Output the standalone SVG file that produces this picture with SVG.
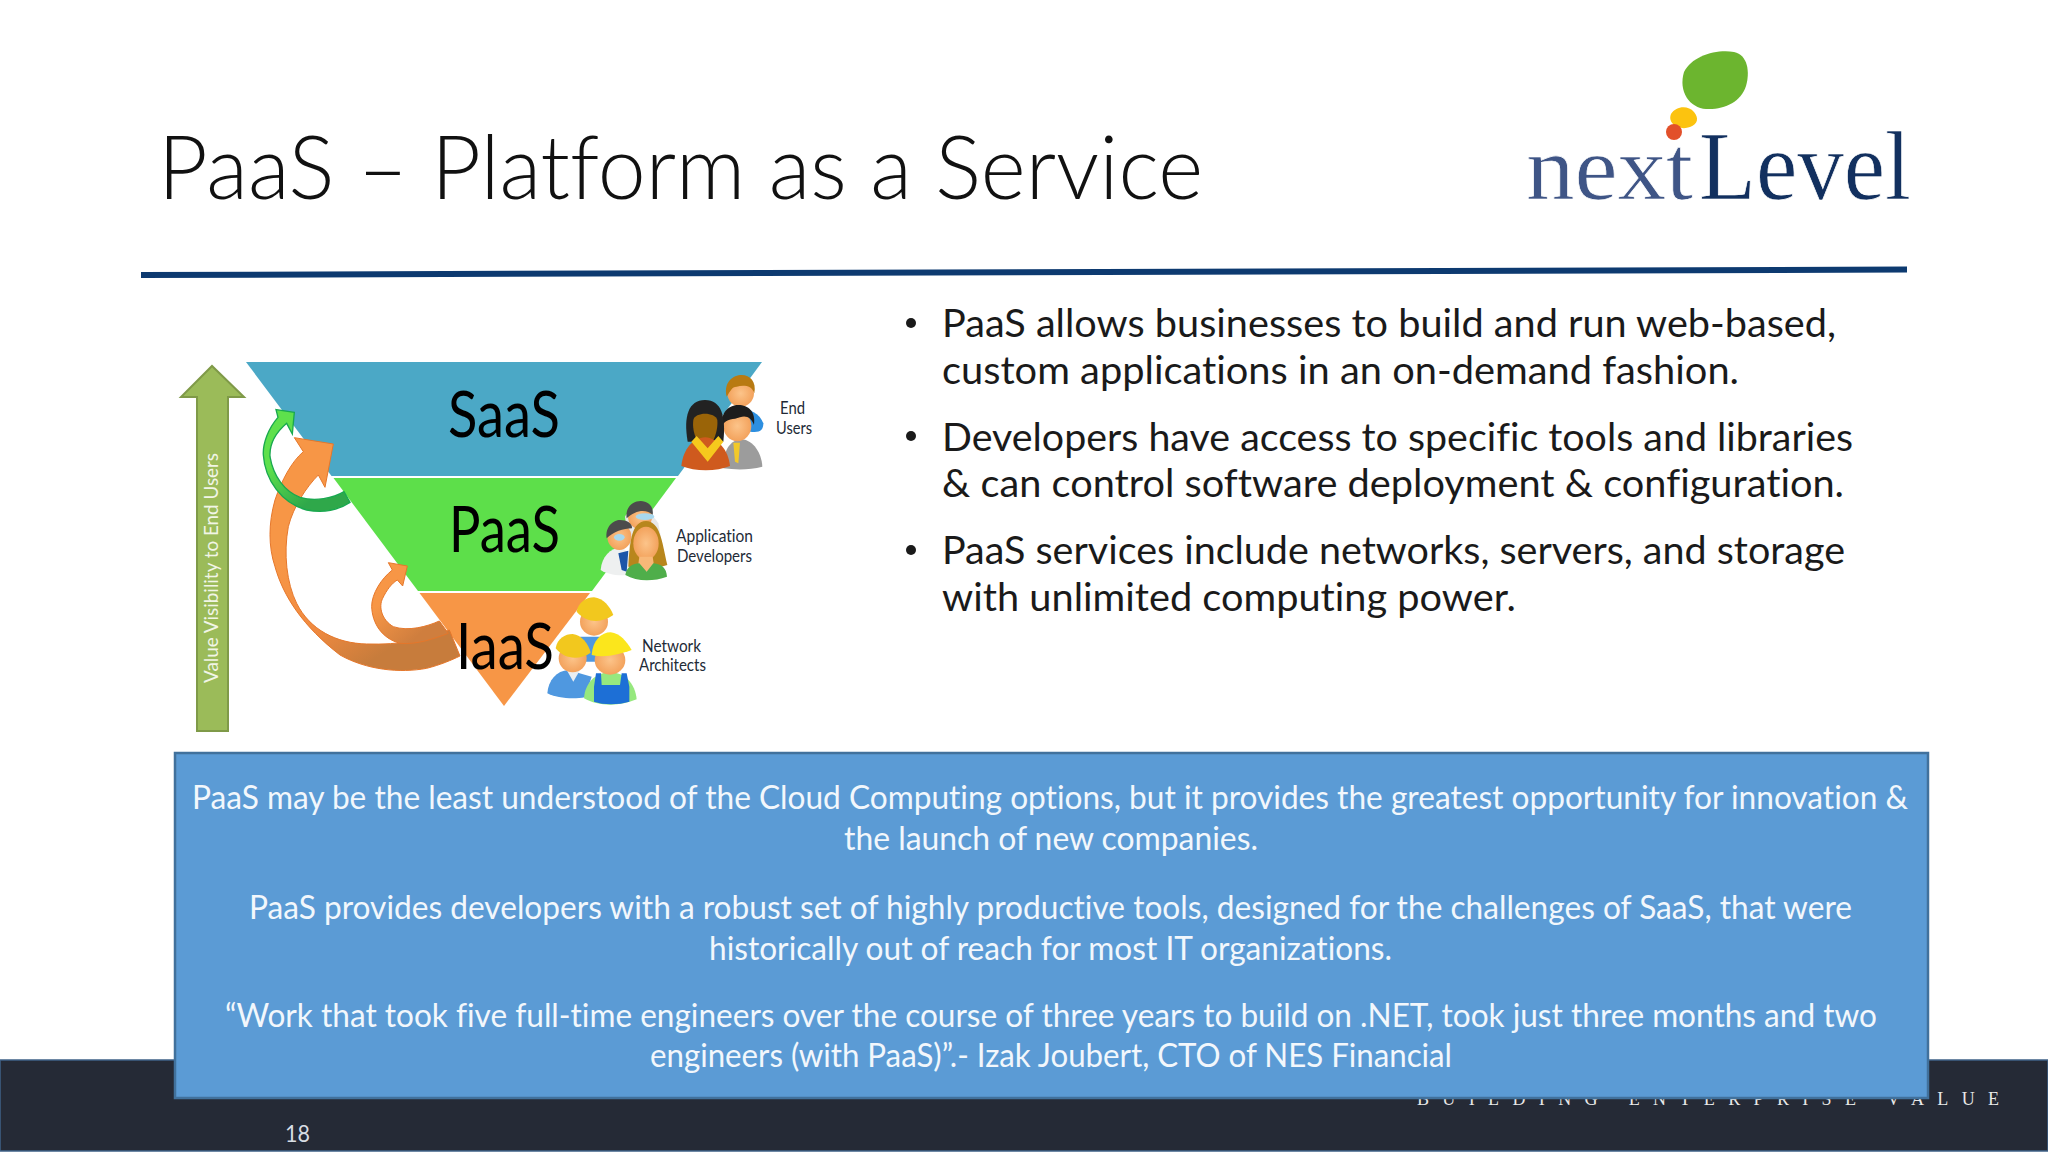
<svg xmlns="http://www.w3.org/2000/svg" width="2048" height="1152" viewBox="0 0 2048 1152">
<style>
text{font-family:"Lato","Liberation Sans",sans-serif;font-variant-ligatures:none}
.b{font-size:39px;fill:#1a1a1a}
.w{font-size:32.500px;fill:#f2f7fc}
.l{font-size:63px;fill:#000}
.s{font-size:17px;fill:#222a36}
.n{font-family:"Liberation Serif",serif;stroke:#fff;stroke-width:.7px}
</style>
<defs>
<linearGradient id="og" gradientUnits="userSpaceOnUse" x1="420" y1="640" x2="640" y2="960"><stop offset="0" stop-color="#f79646"/><stop offset="0.55" stop-color="#f08a40"/><stop offset="1" stop-color="#c77c3c"/></linearGradient>
<linearGradient id="og2" gradientUnits="userSpaceOnUse" x1="660" y1="790" x2="760" y2="900"><stop offset="0" stop-color="#f79646"/><stop offset="1" stop-color="#cf7e3e"/></linearGradient>
<linearGradient id="gg" gradientUnits="userSpaceOnUse" x1="330" y1="380" x2="430" y2="500"><stop offset="0" stop-color="#5ee04c"/><stop offset="1" stop-color="#2fa84a"/></linearGradient>
<radialGradient id="sk"><stop offset="0" stop-color="#fcc48a"/><stop offset="1" stop-color="#f3a25c"/></radialGradient>
</defs>
<rect width="2048" height="1152" fill="#fff"/>
<g id="title"><text x="158" y="199" font-size="88" style="font-weight:300" fill="#111" textLength="1045" lengthAdjust="spacingAndGlyphs">PaaS – Platform as a Service</text></g>
<g id="logo">
<path d="M1684 72C1692 56 1716 49 1734 52C1748 55 1750 72 1746 86C1741 102 1724 110 1706 109C1690 108 1678 92 1684 72Z" fill="#6cb52f"/>
<path d="M1671 114C1676 106 1688 105 1694 112C1699 118 1698 124 1690 127C1680 131 1667 124 1671 114Z" fill="#fcc30f"/>
<circle cx="1674" cy="132" r="8" fill="#e2502a"/>
<text class="n" x="1526" y="199" font-size="92" fill="#3f5586" textLength="167" lengthAdjust="spacingAndGlyphs">next</text>
<text class="n" x="1699" y="199" font-size="98" fill="#12305f" textLength="212" lengthAdjust="spacingAndGlyphs">Level</text>
</g>
<path id="rule" d="M141 272L1907 266.500V272.500L141 278Z" fill="#0d3a70"/>
<g id="arrow-value">
<path d="M197 731V397H181L212 366L244 397H228V731Z" fill="#9bbb59" stroke="#7f9a48" stroke-width="2"/>
<text transform="translate(218 683) rotate(-90)" font-size="20" fill="#f1f5e6" textLength="230" lengthAdjust="spacingAndGlyphs">Value Visibility to End Users</text>
</g>
<g id="funnel">
<path id="saas" d="M246 362H762L678 476H331.500Z" fill="#4ba8c6"/>
<path id="paas" d="M333.500 478H676L592 591H418Z" fill="#5ddf4a"/>
<path id="iaas" d="M419.500 593H590L504 706Z" fill="#f79646"/>
<text class="l" x="448" y="437" textLength="112" lengthAdjust="spacingAndGlyphs">SaaS</text>
<text class="l" x="449" y="552" textLength="111" lengthAdjust="spacingAndGlyphs">PaaS</text>
<text class="l" x="456" y="669" textLength="98" lengthAdjust="spacingAndGlyphs">IaaS</text>
</g>
<g id="connectors" transform="translate(160 340) scale(.33333)">
<path id="c-big" d="M520 312L403 293L430 335C395 365 365 420 345 480C325 550 325 620 345 680C370 770 430 860 540 945C620 990 720 1000 800 985C840 975 875 960 900 948L868 870C800 900 720 915 620 912C530 910 450 870 410 790C380 730 370 640 385 560C400 500 440 440 475 405L495 442Z" fill="url(#og)" stroke="#e5762a" stroke-width="3"/>
<path id="c-small" d="M742 678L685 668L697 690C665 715 635 760 635 800C637 850 665 895 720 910C770 915 825 895 865 880L838 843C800 860 745 875 700 860C665 840 655 800 668 775C680 750 695 730 712 720L728 738Z" fill="url(#og2)" stroke="#e5762a" stroke-width="3"/>
<path id="c-green" d="M403 217L348 209L354 232C325 265 308 310 310 345C315 420 365 490 440 510C490 520 535 510 570 487L552 455C520 475 465 485 420 472C375 455 340 410 330 350C328 315 345 280 380 250L397 282Z" fill="url(#gg)" stroke="#19a84f" stroke-width="4"/>
</g>
<g id="people" transform="translate(520 340) scale(.33333)">
<g id="end-users">
<path d="M625 215C650 195 715 205 730 250C730 270 720 280 690 275L620 230Z" fill="#2d8fe0"/>
<ellipse cx="662" cy="160" rx="40" ry="40" fill="url(#sk)"/>
<path d="M620 170C610 125 640 105 665 105C690 105 710 125 703 160C695 135 670 135 650 140C635 140 630 155 620 170Z" fill="#b87a12"/>
<path d="M610 385C610 330 630 300 665 298C700 300 725 340 727 380C690 390 650 390 610 385Z" fill="#9c9c9c"/>
<path d="M640 308H660L655 370L645 365Z" fill="#f2c92a"/>
<ellipse cx="652" cy="258" rx="42" ry="46" fill="url(#sk)"/>
<path d="M608 255C600 215 630 195 655 195C685 195 708 215 702 255C695 235 680 225 660 232C640 240 620 235 608 255Z" fill="#1d1d1d"/>
<path d="M503 305C490 230 505 180 555 180C605 180 618 230 610 305Z" fill="#222"/>
<path d="M520 240C525 215 585 215 592 240C595 280 575 320 556 322C535 320 515 280 520 240Z" fill="#9a6408"/>
<path d="M484 378C490 325 520 295 555 292C595 295 625 330 630 378C590 395 525 395 484 378Z" fill="#cf5a1e"/>
<path d="M514 305L563 365L610 305L595 288L563 325L530 288Z" fill="#f6c91d"/>
</g>
<g id="developers">
<path d="M315 530C330 500 385 500 415 550L430 630L330 640Z" fill="#e8e8e8"/>
<ellipse cx="360" cy="530" rx="36" ry="38" fill="url(#sk)"/>
<path d="M320 535C315 500 340 483 362 483C385 483 402 500 398 525C380 505 345 510 320 535Z" fill="#4c4c4c"/>
<path d="M242 690C245 650 270 625 305 622L340 650L320 705C290 708 260 702 242 690Z" fill="#eef0f0"/>
<path d="M295 640L325 632L320 695L305 690Z" fill="#1c55a8"/>
<ellipse cx="298" cy="590" rx="36" ry="40" fill="url(#sk)"/>
<path d="M260 595C255 560 280 540 300 540C320 540 338 550 336 565C310 565 280 575 260 595Z" fill="#4c4c4c"/>
<ellipse cx="298" cy="592" rx="16" ry="10" fill="#a8d8ee"/>
<ellipse cx="375" cy="530" rx="28" ry="10" fill="#a8d8ee"/>
<path d="M325 680C330 600 335 545 378 543C420 545 425 600 442 675L390 690Z" fill="#b8861c"/>
<ellipse cx="378" cy="610" rx="38" ry="50" fill="url(#sk)"/>
<path d="M358 650H398L405 695H352Z" fill="#f8b878"/>
<path d="M316 705C320 680 340 670 358 670L380 695L400 670C425 672 440 685 441 710C400 725 350 725 316 705Z" fill="#4fae4a"/>
</g>
<g id="architects">
<path d="M180 890H250L225 965H195Z" fill="#4f98e0"/>
<ellipse cx="222" cy="845" rx="42" ry="42" fill="url(#sk)"/>
<path d="M170 815C175 785 200 772 222 772C250 775 270 800 280 825C245 850 200 850 170 815Z" fill="#f2c81e"/>
<path d="M82 1060C85 1020 110 992 145 990L215 1010L195 1072C160 1078 110 1075 82 1060Z" fill="#4f98e0"/>
<path d="M140 990H180L160 1025Z" fill="#e9eef2"/>
<ellipse cx="158" cy="955" rx="42" ry="42" fill="url(#sk)"/>
<path d="M107 925C112 895 135 882 158 882C185 885 205 910 212 938C180 960 135 960 107 925Z" fill="#f2c81e"/>
<path d="M192 1075C195 1030 225 998 270 997C315 998 345 1030 350 1078C300 1100 235 1100 192 1075Z" fill="#96e87e"/>
<path d="M222 1085V1040L228 1000H243L245 1035H300L305 1000H320L328 1040V1085C295 1095 250 1095 222 1085Z" fill="#1d6fd6"/>
<ellipse cx="270" cy="960" rx="46" ry="44" fill="url(#sk)"/>
<path d="M215 945C218 900 245 877 272 877C300 880 320 905 335 930C300 942 255 955 215 945Z" fill="#fbe61c"/>
</g>
</g>
<g id="labels">
<text class="s" x="780" y="414" textLength="25" lengthAdjust="spacingAndGlyphs">End</text>
<text class="s" x="776" y="434" textLength="36" lengthAdjust="spacingAndGlyphs">Users</text>
<text class="s" x="676" y="542" textLength="77" lengthAdjust="spacingAndGlyphs">Application</text>
<text class="s" x="677" y="562" textLength="75" lengthAdjust="spacingAndGlyphs">Developers</text>
<text class="s" x="642" y="652" textLength="59" lengthAdjust="spacingAndGlyphs">Network</text>
<text class="s" x="639" y="671" textLength="67" lengthAdjust="spacingAndGlyphs">Architects</text>
</g>
<g id="bullets">
<circle cx="911" cy="323" r="5" fill="#1a1a1a"/><circle cx="911" cy="436" r="5" fill="#1a1a1a"/><circle cx="911" cy="550" r="5" fill="#1a1a1a"/>
<text class="b" x="942" y="337" textLength="894" lengthAdjust="spacingAndGlyphs">PaaS allows businesses to build and run web-based,</text>
<text class="b" x="942" y="384" textLength="797" lengthAdjust="spacingAndGlyphs">custom applications in an on-demand fashion.</text>
<text class="b" x="942" y="451" textLength="911" lengthAdjust="spacingAndGlyphs">Developers have access to specific tools and libraries</text>
<text class="b" x="942" y="497" textLength="902" lengthAdjust="spacingAndGlyphs">&amp; can control software deployment &amp; configuration.</text>
<text class="b" x="942" y="564" textLength="903" lengthAdjust="spacingAndGlyphs">PaaS services include networks, servers, and storage</text>
<text class="b" x="942" y="611" textLength="574" lengthAdjust="spacingAndGlyphs">with unlimited computing power.</text>
</g>
<g id="footer">
<rect x="0" y="1060" width="2048" height="91" fill="#252a36" stroke="#3f6288" stroke-width="1.500"/>
<text x="1417" y="1105" font-size="18" style="font-family:'Liberation Serif',serif" fill="#e8e8e8" textLength="582" lengthAdjust="spacing">BUILDING ENTERPRISE VALUE</text>
<text x="285" y="1142" font-size="24" fill="#d8dde4" textLength="25" lengthAdjust="spacingAndGlyphs">18</text>
</g>
<g id="callout">
<rect x="175" y="753" width="1753" height="345" fill="#5b9bd5" stroke="#41719c" stroke-width="2.500"/>
<text class="w" x="192" y="809" textLength="1716" lengthAdjust="spacingAndGlyphs">PaaS may be the least understood of the Cloud Computing options, but it provides the greatest opportunity for innovation &amp;</text>
<text class="w" x="844" y="850" textLength="414" lengthAdjust="spacingAndGlyphs">the launch of new companies.</text>
<text class="w" x="249" y="919" textLength="1603" lengthAdjust="spacingAndGlyphs">PaaS provides developers with a robust set of highly productive tools, designed for the challenges of SaaS, that were</text>
<text class="w" x="709" y="960" textLength="683" lengthAdjust="spacingAndGlyphs">historically out of reach for most IT organizations.</text>
<text class="w" x="225" y="1027" textLength="1652" lengthAdjust="spacingAndGlyphs">“Work that took five full-time engineers over the course of three years to build on .NET, took just three months and two</text>
<text class="w" x="650" y="1067" textLength="802" lengthAdjust="spacingAndGlyphs">engineers (with PaaS)”.- Izak Joubert, CTO of NES Financial</text>
</g>
</svg>
